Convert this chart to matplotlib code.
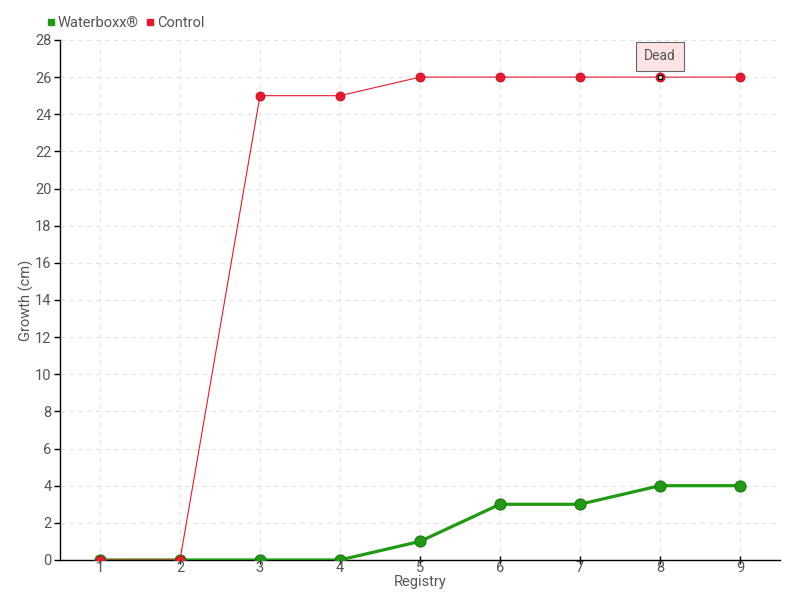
import matplotlib
matplotlib.use("Agg")
import matplotlib.pyplot as plt
from matplotlib.lines import Line2D

# data
registry = [1, 2, 3, 4, 5, 6, 7, 8, 9]
waterboxx = [0, 0, 0, 0, 1, 3, 3, 4, 4]
control = [0, 0, 25, 25, 26, 26, 26, 26, 26]
dead_idx = 7  # registry 8 in the control series

GREEN = "#1f9a12"
RED = "#e8192c"
TEXT = "#555555"

plt.rcParams["font.family"] = ["Roboto", "DejaVu Sans"]

fig = plt.figure(figsize=(8, 6), dpi=100)
ax = fig.add_axes([0.075, 0.0667, 0.9, 0.8667])

ax.plot(registry, waterboxx, "-", color=GREEN, linewidth=2.3,
        marker="o", markersize=8, markerfacecolor=GREEN,
        markeredgecolor="#1a7a10", markeredgewidth=0.8, zorder=3)
ax.plot(registry, control, "-", color=RED, linewidth=0.8,
        marker="o", markersize=6.5, markerfacecolor=RED,
        markeredgecolor="#c0101f", markeredgewidth=0.6, zorder=4)
# "Dead" point marked white
ax.plot(registry[dead_idx], control[dead_idx], "s", markersize=3.5,
        markerfacecolor="white", markeredgecolor="black",
        markeredgewidth=1, zorder=5)

ax.annotate("Dead", xy=(registry[dead_idx], control[dead_idx]),
            xytext=(0, 15), textcoords="offset points",
            ha="center", va="center", fontsize=10, color=TEXT,
            bbox=dict(boxstyle="square,pad=0.55", facecolor="#fde3e3",
                      edgecolor="#666666", linewidth=0.8),
            arrowprops=dict(arrowstyle="-", color="#666666", lw=0.8,
                            shrinkA=0, shrinkB=3),
            zorder=6)

ax.set_xlim(0.5, 9.5)
ax.set_ylim(0, 28)
ax.set_xticks(registry)
ax.set_yticks(range(0, 29, 2))
ax.tick_params(axis="both", colors="black", labelcolor=TEXT,
               labelsize=10.5, length=4, width=1, pad=2)
ax.tick_params(axis="x", direction="inout", pad=-2, length=6)

for side in ("top", "right"):
    ax.spines[side].set_visible(False)
for side in ("left", "bottom"):
    ax.spines[side].set_color("black")
    ax.spines[side].set_linewidth(1)

ax.grid(True, linestyle=(0, (4, 4)), color="#e3e3e3", linewidth=0.8)
ax.set_axisbelow(True)

ax.set_xlabel("Registry", color=TEXT, fontsize=10.5, labelpad=0)
ax.set_ylabel("Growth (cm)", color=TEXT, fontsize=10.5)
ax.yaxis.set_label_coords(-0.036, 0.5)

handles = [
    Line2D([], [], linestyle="none", marker="s", markersize=4.5,
           color=GREEN, label="Waterboxx\u00ae"),
    Line2D([], [], linestyle="none", marker="s", markersize=4.5,
           color=RED, label="Control"),
]
fig.legend(handles=handles, loc="upper left", bbox_to_anchor=(0.04, 0.995),
           ncol=2, frameon=False, fontsize=10.5, labelcolor=TEXT,
           handletextpad=0.05, columnspacing=0.4, handlelength=0.8)

fig.savefig("out.png", dpi=100)
